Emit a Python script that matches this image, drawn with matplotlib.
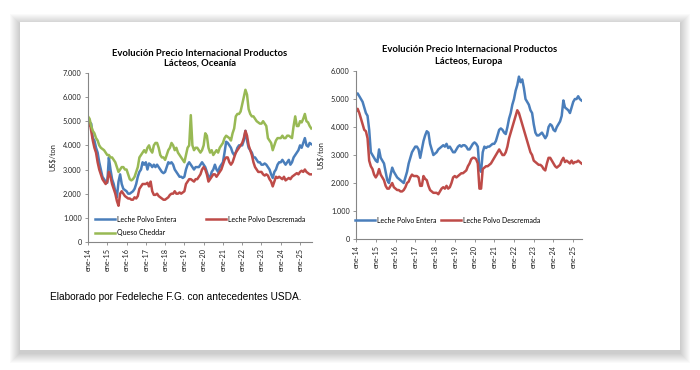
import numpy as np
import matplotlib.pyplot as plt
from matplotlib.patches import Rectangle
from matplotlib.ticker import FuncFormatter

# monthly values, US$/ton, from ene-14
oce_entera = [
    5100, 4950, 4900, 4300, 4200, 3900, 3700, 3300, 3000, 2700, 2600, 2500,   # 2014
    2450, 3500, 3000, 2600, 2400, 2100, 1850, 2500, 2800, 2400, 2200, 2150,   # 2015
    2100, 2000, 2000, 2050, 2100, 2200, 2400, 2700, 2900, 3000, 3300, 3200,   # 2016
    3300, 3000, 3250, 3200, 3100, 3200, 3100, 3200, 3100, 3000, 2900, 2850,   # 2017
    2900, 3100, 3300, 3250, 3300, 3200, 3000, 2900, 2800, 2700, 2700, 2650,   # 2018
    2700, 3000, 3200, 3300, 3200, 3100, 3000, 3100, 3100, 3100, 3200, 3300,   # 2019
    3200, 3100, 2900, 2700, 2650, 2900, 3000, 3200, 3000, 2900, 3100, 3200,   # 2020
    3300, 3700, 4150, 4100, 4000, 3900, 3700, 3600, 3700, 3900, 4000, 4000,   # 2021
    4000, 4200, 4600, 4200, 3900, 3800, 3700, 3500, 3500, 3400, 3300, 3300,   # 2022
    3200, 3200, 3250, 3200, 3100, 3000, 2800, 2650, 2900, 3000, 3200, 3300,   # 2023
    3300, 3400, 3300, 3200, 3300, 3400, 3200, 3300, 3500, 3600, 3700, 3800,   # 2024
    4000, 3900, 4100, 4300, 4000, 3950, 4100, 4050,                           # 2025
]
oce_descremada = [
    4800, 5000, 4600, 4200, 3900, 3700, 3300, 3000, 2800, 2600, 2500, 2400,
    2500, 2900, 2700, 2400, 2200, 2000, 1700, 1500, 2000, 2100, 2000, 1900,
    1850, 1800, 1800, 1750, 1750, 1850, 1800, 1900, 2200, 2300, 2400, 2400,
    2400, 2450, 2300, 2500, 2100, 1950, 1950, 2000, 1900, 1850, 1800, 1750,
    1750, 1800, 1850, 1950, 2000, 2000, 2100, 2000, 2000, 2050, 2000, 2050,
    2100, 2400, 2500, 2600, 2600, 2550, 2500, 2600, 2600, 2700, 2800, 3000,
    3100, 3000, 2800, 2500, 2600, 2700, 2800, 2800, 2700, 2800, 2900, 3000,
    3200, 3400, 3500, 3500, 3300, 3200, 3300, 3500, 3700, 3800, 3900, 4000,
    4100, 4300, 4600, 4400, 4000, 3800, 3600, 3300, 3100, 3000, 2900, 2900,
    2900, 2800, 2750, 2800, 2750, 2600, 2500, 2300, 2500, 2700, 2650, 2700,
    2650, 2600, 2700, 2550, 2600, 2650, 2600, 2700, 2750, 2800, 2850, 2800,
    2900, 2950, 2900, 3000, 2900, 2850, 2800, 2800,
]
oce_cheddar = [
    5200, 5100, 4800, 4600, 4500, 4300, 4200, 4000, 3900, 3850, 3800, 3700,
    3600, 3600, 3500, 3500, 3400, 3300, 3100, 2900, 3000, 3100, 3100, 3000,
    3000, 2800, 2600, 2550, 2600, 2700, 2900, 3100, 3500, 3600, 3700, 3800,
    3700, 3900, 4000, 3800, 3700, 4000, 4100, 4100, 3900, 3600, 3500, 3500,
    3400, 3600, 3800, 3900, 4100, 4000, 3800, 3900, 3700, 3600, 3500, 3400,
    3300, 3600, 3900, 4000, 5250, 4000, 3800, 3900, 3900, 3800, 3700, 3800,
    4000, 4500, 4400, 3900, 3700, 3800, 3600, 3700, 3800, 3700, 3900, 4000,
    4100, 4300, 4400, 4350, 4300, 4200, 4500, 4700, 5200, 5300, 5300, 5400,
    5700, 6000, 6300, 6100, 5500, 5300, 5200, 5200, 5100, 5000, 4950, 4900,
    4900, 5000, 4900, 4800, 4300, 4200, 4100, 3800, 4000, 4200, 4300, 4300,
    4300, 4400, 4300, 4300, 4400, 4400, 4350, 4300, 4800, 5200, 4800, 4800,
    5000, 4950, 5100, 5300, 5000, 4950, 4800, 4700,
]

eur_entera = [
    5150, 5200, 5100, 5000, 4900, 4700, 4500, 4400, 3900, 3100, 3000, 2900,
    2800, 2750, 3200, 2900, 2800, 2700, 2400, 2100, 2000, 2300, 2550, 2400,
    2300, 2200, 2150, 2100, 2050, 2000, 2200, 2400, 2700, 2900, 3100, 3200,
    3300, 3300, 3200, 2900, 3200, 3500, 3700, 3850, 3800, 3400, 3200, 3000,
    3050, 3100, 3200, 3250, 3300, 3350, 3300, 3400, 3250, 3300, 3200, 3100,
    3100, 3200, 3300, 3350, 3300, 3350, 3350, 3300, 3200, 3200, 3300, 3400,
    3450, 3400, 3300, 2500, 2400, 3100, 3300, 3250, 3300, 3300, 3350, 3400,
    3400, 3500, 3700, 3900, 3950, 3900, 3800, 3750, 4000, 4300, 4500, 4800,
    5000, 5300, 5500, 5800, 5600, 5700, 5400, 5000, 4900, 4800, 4600, 4500,
    4100, 3800, 3700, 3700, 3750, 3800, 3700, 3600, 3700, 4000, 4100, 4050,
    3900, 3850, 4000, 4100, 4200, 4400, 4950, 4700, 4650, 4600, 4500, 4700,
    4900, 5000, 5000, 5100, 5000, 4950,
]
eur_descremada = [
    4550, 4650, 4500, 4300, 4100, 3900, 3850, 3600, 2800, 2600, 2500, 2300,
    2200, 2300, 2500, 2300, 2200, 2100, 1900, 1800, 1800, 1900, 2000, 1850,
    1800, 1750, 1750, 1700, 1700, 1750, 1850, 2000, 2050, 2200, 2300, 2250,
    2250, 2250, 2200, 1900, 1900, 2250, 2150, 2100, 1900, 1750, 1700, 1650,
    1650, 1650, 1600, 1700, 1800, 1850, 1800, 1900, 1800, 1850, 2000, 2200,
    2250, 2200, 2250, 2300, 2350, 2350, 2400, 2450, 2600, 2700, 2850, 2900,
    2900, 2850, 2700, 1800, 1800, 2500, 2550, 2600, 2600, 2650, 2700, 2800,
    2900, 3000, 3100, 3200, 3100, 3000, 3000, 3100, 3300, 3600, 3800, 4000,
    4200, 4400, 4600, 4500, 4300, 4100, 3900, 3700, 3500, 3300, 3100, 3000,
    2800, 2750, 2700, 2650, 2650, 2600, 2500, 2450, 2700, 2900, 2900, 2800,
    2700, 2600, 2550, 2600, 2650, 2800, 2900, 2750, 2800, 2750, 2700, 2800,
    2700, 2750, 2750, 2800, 2750, 2700,
]

years = list(range(2014, 2026))
year_labels = ["ene-%02d" % (y % 100) for y in years]

BLUE = "#4a7ebb"
RED = "#be4b48"
GREEN = "#98b954"
AXIS = "#868686"


def months(n):
    return 2014 + np.arange(n) / 12.0


def miles(v, pos):
    return "{:,.0f}".format(v).replace(",", ".")


def style_axes(ax, ymax, xmax):
    ax.set_xlim(2014, xmax)
    ax.set_ylim(0, ymax)
    ax.set_yticks(np.arange(0, ymax + 1, 1000))
    ax.yaxis.set_major_formatter(FuncFormatter(miles))
    ax.set_xticks(years)
    ax.set_xticklabels(year_labels, rotation=90)
    for s in ["top", "right"]:
        ax.spines[s].set_visible(False)
    for s in ["left", "bottom"]:
        ax.spines[s].set_color(AXIS)
        ax.spines[s].set_linewidth(0.8)
    ax.tick_params(axis="both", colors=AXIS, labelcolor="#222222",
                   labelsize=5.2, length=2.5, width=0.6, pad=2)
    ax.set_ylabel("US$/ton", fontsize=5.3, color="#222222", labelpad=5)
    ax.patch.set_alpha(0)


fig = plt.figure(figsize=(7, 3.7), dpi=100)
fig.patch.set_facecolor("white")
plt.rcParams["font.family"] = ["Lato", "DejaVu Sans"]

# page with soft shadow
px, py = 1 / 700, 1 / 370
for k in range(10, 0, -1):
    fig.patches.append(Rectangle((0.028 - k * px, 0.055 - (k + 3) * py),
                                 0.944 + 2 * k * px, 0.885 + (2 * k + 1) * py,
                                 transform=fig.transFigure, facecolor="black",
                                 edgecolor="none", alpha=0.02, zorder=0))
fig.patches.append(Rectangle((0.028, 0.055), 0.944, 0.885,
                             transform=fig.transFigure, facecolor="white",
                             edgecolor="none", zorder=1))

# Oceania
ax1 = fig.add_axes([0.1257, 0.346, 0.32, 0.457])
ax1.set_zorder(2)
l1, = ax1.plot(months(len(oce_entera)), oce_entera, color=BLUE, lw=1.8)
l2, = ax1.plot(months(len(oce_descremada)), oce_descremada, color=RED, lw=1.8)
l3, = ax1.plot(months(len(oce_cheddar)), oce_cheddar, color=GREEN, lw=1.8)
style_axes(ax1, 7000, 2025.62)
ax1.set_title("Evolución Precio Internacional Productos\nLácteos, Oceanía",
              fontsize=6.8, fontweight="bold", linespacing=1.1, pad=5)
ax1.legend([l1, l3, l2], ["Leche Polvo Entera", "Queso Cheddar", "Leche Polvo Descremada"],
           ncol=2, loc="lower left", bbox_to_anchor=(0.031, 0.035), frameon=False,
           fontsize=5.0, handlelength=2.9, handletextpad=0.3, columnspacing=4.2,
           labelspacing=0.9, borderpad=0, borderaxespad=0)

# Europa
ax2 = fig.add_axes([0.5086, 0.354, 0.323, 0.454])
ax2.set_zorder(2)
m1, = ax2.plot(months(len(eur_entera)), eur_entera, color=BLUE, lw=1.8)
m2, = ax2.plot(months(len(eur_descremada)), eur_descremada, color=RED, lw=1.8)
style_axes(ax2, 6000, 2025.45)
ax2.set_title("Evolución Precio Internacional Productos\nLácteos, Europa",
              fontsize=6.8, fontweight="bold", linespacing=1.4, pad=5)
ax2.legend([m1, m2], ["Leche Polvo Entera", "Leche Polvo Descremada"],
           ncol=2, loc="lower left", bbox_to_anchor=(-0.004, 0.09), frameon=False,
           fontsize=5.0, handlelength=2.9, handletextpad=0.3, columnspacing=0.6,
           borderpad=0, borderaxespad=0)

fig.text(50 / 700, 1 - 297 / 370, "Elaborado por Fedeleche F.G. con antecedentes USDA.",
         fontsize=7.3, family="Liberation Sans", va="center", ha="left", zorder=3)

fig.savefig("out.png", dpi=100)
